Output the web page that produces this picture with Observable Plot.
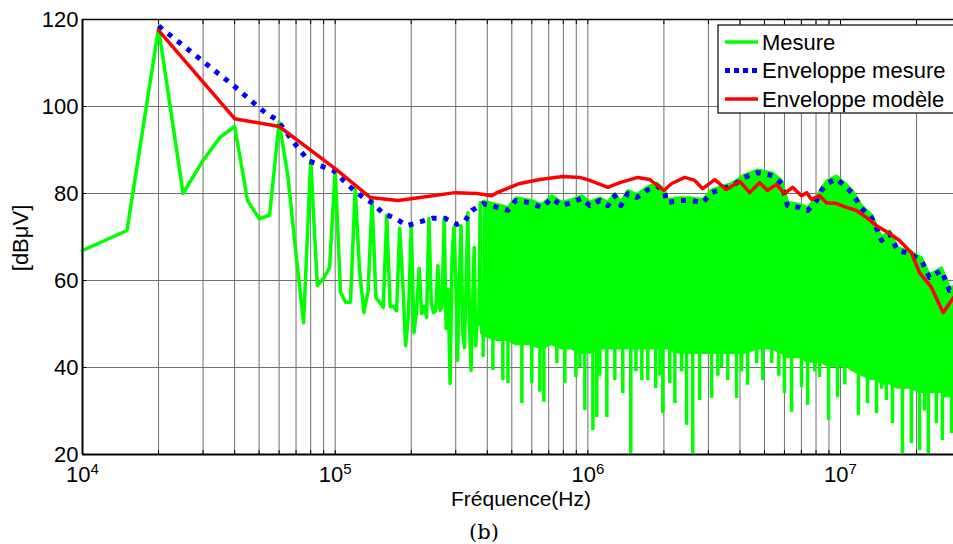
<!DOCTYPE html>
<html><head><meta charset="utf-8">
<script src="https://cdn.jsdelivr.net/npm/d3@7"></script>
<script src="https://cdn.jsdelivr.net/npm/@observablehq/plot@0.6"></script>
<style>body{margin:0;background:#fff}</style>
</head><body><div id="chart"></div>
<script>
// ---- Data ----
const seriesNames = ["Mesure", "Enveloppe mesure", "Enveloppe modèle"];

// Mesure: discrete harmonics region (Hz, dBµV)
const mesureF = [1e4,1.5e4,2e4,2.5e4,3e4,3.5e4,4e4,4.5e4,5e4,5.5e4,
  6e4,6.5e4,7e4,7.5e4,8e4,8.5e4,9e4,9.5e4,1e5,1.05e5,
  1.1e5,1.15e5,1.2e5,1.25e5,1.3e5,1.35e5,1.4e5,1.45e5,1.5e5,1.55e5,
  1.6e5,1.65e5,1.7e5,1.75e5,1.8e5,1.85e5,1.9e5,1.95e5,2e5,2.05e5,
  2.1e5,2.15e5,2.2e5,2.25e5,2.3e5,2.35e5,2.4e5,2.45e5,2.5e5,2.55e5,
  2.6e5,2.65e5,2.7e5,2.75e5,2.8e5,2.85e5,2.9e5,2.95e5,3e5,3.05e5,
  3.1e5,3.15e5,3.2e5,3.25e5,3.3e5,3.35e5,3.4e5,3.45e5,3.5e5,3.55e5,
  3.6e5,3.65e5,3.7e5,3.75e5,3.8e5];
const mesureV = [66.9,71.5,118,80,87.6,92.9,95.4,78.4,74.2,75,
  96.4,84,66,50.3,87.6,58.8,60.5,63,85.3,57.3,
  55,55,81.1,62,52.6,57.7,78.4,56,55,53.8,
  75,54,54,53,72,60,45,52,72.6,48,
  53,62.8,52.4,54,51.5,74.3,55,52.6,53,63.4,
  53.1,54,74.3,49,58,36.3,65,72.2,60,41.6,
  60,72.6,48,44.6,60,75.6,50,39.3,55,67.6,
  45,52,50,77.9,48];

// Mesure: dense region (top and solid bottom of the band)
const bandF = [3.85e5,4.37e5,4.83e5,5.19e5,5.85e5,6.58e5,7.21e5,7.89e5,8.57e5,9.47e5,
  1.018e6,1.115e6,1.2e6,1.279e6,1.35e6,1.439e6,1.562e6,1.711e6,1.874e6,2.016e6,
  2.053e6,2.31e6,2.53e6,2.85e6,3.09e6,3.42e6,3.74e6,4.17e6,4.7e6,5.38e6,
  5.85e6,6.17e6,6.88e6,7.41e6,8.04e6,8.41e6,8.88e6,9.64e6,1.056e7,1.115e7,
  1.211e7,1.326e7,1.388e7,1.453e7,1.562e7,1.68e7,1.874e7,2.09e7,2.25e7,2.51e7,
  2.7e7,2.8e7];
const bandHi = [78.2,77.5,76.8,79,78.5,77.5,79.5,78,78.5,79.5,
  78,79,78,80,78,80.7,79.8,81.4,82.4,80.8,
  78.6,79,79,78.6,80.8,81.7,82.4,84.3,85.4,84.7,
  83,78,77.5,76.8,79,81.3,83,84,82,80.6,
  77.2,75.1,72.6,69.8,71.4,67.5,66.8,65.2,61.3,62.9,
  58.3,58.6];
const bandLo = [47,46,46,45,45,44,45,44,44,43,
  43,44,44,44,44,44,44,44,44,44,
  44,43,43,43,43,43,43,43,44,44,
  43,42,42,41,41,41,40,40,40,39,
  38,37,37,36,36,35,35,34,34,34,
  33,33];
// Mesure: downward spikes in the dense region (bottom values)
const spikeF = [3.85e5,4.21e5,4.61e5,4.83e5,5.48e5,6.0e5,6.46e5,6.7e5,7.54e5,8.11e5,
  8.97e5,9.3e5,9.73e5,1.047e6,1.085e6,1.115e6,1.189e6,1.279e6,1.375e6,1.479e6,
  1.55e6,1.635e6,1.727e6,1.857e6,1.93e6,1.98e6,2.11e6,2.21e6,2.35e6,2.46e6,
  2.6e6,2.77e6,3.09e6,3.27e6,3.38e6,3.58e6,3.88e6,4.06e6,4.29e6,4.66e6,
  4.92e6,5.34e6,5.7e6,6.0e6,6.4e6,7.01e6,7.41e6,7.9e6,8.26e6,8.97e6,
  9.73e6,1.04e7,1.085e7,1.178e7,1.279e7,1.388e7,1.453e7,1.52e7,1.606e7,1.758e7,
  1.908e7,2.053e7,2.15e7,2.227e7,2.395e7,2.53e7,2.6e7,2.75e7];
const spikeV = [42.3,39.3,37,36.3,31.7,36.3,34.3,32,40.9,36.3,
  37.7,40,30.1,25.5,28.5,38,28.5,37,34,20.2,
  39,37,37,35.2,38,29.4,36.3,31.7,39,26.7,
  20.2,32.4,32.9,38,40,37,32.9,39,35.9,40.9,
  37,40.9,38,34,29.7,35.4,31.3,39,37.7,27.8,
  33.1,36,41.6,29,31.7,29.4,35,32.4,27.1,20.2,
  22.5,20.9,30,20.2,27.1,23.2,33,24.8];

// Enveloppe mesure
const envF = [2e4,4e4,4.74e4,5.29e4,5.79e4,6e4,6.76e4,7.27e4,7.82e4,8.72e4,
  9.82e4,1.168e5,1.29e5,1.413e5,1.548e5,1.727e5,1.926e5,2.11e5,2.42e5,2.72e5,
  3.03e5,3.27e5,3.48e5,3.85e5,4.37e5,4.83e5,5.19e5,5.85e5,6.58e5,7.21e5,
  7.89e5,8.57e5,9.47e5,1.018e6,1.115e6,1.2e6,1.279e6,1.35e6,1.439e6,1.562e6,
  1.711e6,1.874e6,2.016e6,2.053e6,2.31e6,2.53e6,2.85e6,3.09e6,3.42e6,3.74e6,
  4.17e6,4.7e6,5.38e6,5.85e6,6.17e6,6.88e6,7.41e6,8.04e6,8.41e6,8.88e6,
  9.64e6,1.056e7,1.115e7,1.211e7,1.326e7,1.388e7,1.453e7,1.562e7,1.68e7,1.874e7,
  2.09e7,2.25e7,2.51e7,2.7e7,2.8e7];
const envV = [118.5,104.6,100.9,98.6,97.2,96.3,92.2,89.9,87.6,86.4,
  85.3,81.1,79.1,77.7,75.4,74.3,72.6,73.3,74.3,74.3,
  72.9,73.8,76.1,77.7,76.8,76.1,78.4,77.9,76.8,78.9,
  77.2,77.9,78.9,77.2,78.4,77.2,79.5,77.2,80,79.1,
  80.7,81.8,80.2,77.9,78.4,78.4,77.9,80.2,81.1,81.8,
  83.7,84.8,84.1,82.3,77.2,76.8,76.1,78.4,80.7,82.3,
  83.4,81.4,80,76.6,74.5,72,69.2,70.8,66.9,66.2,
  64.6,60.7,62.3,57.7,58];

// Enveloppe modèle
const modF = [2e4,4e4,6e4,1e5,1.375e5,1.774e5,2.17e5,2.98e5,3.64e5,4.17e5,
  4.37e5,5.38e5,6.46e5,7.96e5,9.3e5,1.018e6,1.2e6,1.338e6,1.576e6,1.758e6,
  1.997e6,2.148e6,2.418e6,2.648e6,2.85e6,3.18e6,3.54e6,3.99e6,4.37e6,4.78e6,
  5.14e6,5.58e6,6.0e6,6.46e6,7.01e6,7.34e6,7.68e6,8.26e6,8.81e6,9.64e6,
  1.056e7,1.157e7,1.267e7,1.388e7,1.562e7,1.711e7,1.908e7,2.053e7,2.29e7,2.55e7,
  2.8e7];
const modV = [117.5,97.2,95.4,85.7,79.1,78.4,79.1,80.2,80,79.5,
  80.2,82.3,83.2,83.9,83.7,83,81.4,82.5,83.7,83.2,
  80.7,82.3,83.7,83,81.1,83.2,80.9,82.8,80.2,82.5,
  80.7,82.1,80,81.4,79.5,80.2,78.6,79.5,77.9,77.7,
  76.8,76.1,74.5,72.6,70.8,69.2,66.4,61.8,58.4,52.6,
  56.1];

// Axis ticks
const xMajorTicks = [1e4, 1e5, 1e6, 1e7];
const xMinorTicks = [1e4,2e4,3e4,4e4,5e4,6e4,7e4,8e4,9e4,
  1e5,2e5,3e5,4e5,5e5,6e5,7e5,8e5,9e5,
  1e6,2e6,3e6,4e6,5e6,6e6,7e6,8e6,9e6,
  1e7,2e7];
const yTicks = [20, 40, 60, 80, 100, 120];
const xLabel = "Fréquence(Hz)";
const yLabel = "[dBμV]";
const caption = "(b)";

// ---- Tables for the library ----
const mesure = mesureF.map((f, i) => ({f, v: mesureV[i]}));
const band = bandF.map((f, i) => ({f, hi: bandHi[i], lo: bandLo[i]}));
const spikes = spikeF.map((f, i) => ({f, v: spikeV[i]}));
const env = envF.map((f, i) => ({f, v: envV[i]}));
const mod = modF.map((f, i) => ({f, v: modV[i]}));

const GREEN = "#00ff00", BLUE = "#0000ff", RED = "#ff0000";
const FONT = "'Liberation Sans', Arial, sans-serif";

const chart = Plot.plot({
  width: 953, height: 544,
  marginLeft: 82, marginRight: 0, marginTop: 19, marginBottom: 90,
  style: {fontFamily: FONT, fontSize: "22px", background: "white", color: "black"},
  x: {type: "log", domain: [1e4, 2.8e7]},
  y: {domain: [20, 120]},
  marks: [
    Plot.gridX(xMinorTicks, {stroke: "#707070", strokeOpacity: 1, strokeWidth: 1}),
    Plot.gridY(yTicks, {stroke: "#707070", strokeOpacity: 1, strokeWidth: 1}),
    Plot.areaY(band, {x: "f", y1: "lo", y2: "hi", fill: GREEN}),
    Plot.ruleX(spikes, {x: "f", y1: "v", y2: 48, stroke: GREEN, strokeWidth: 3.5}),
    Plot.line(band, {x: "f", y: "hi", stroke: GREEN, strokeWidth: 3}),
    Plot.line(mesure, {x: "f", y: "v", stroke: GREEN, strokeWidth: 3.5, strokeLinejoin: "round"}),
    Plot.line(env, {x: "f", y: "v", stroke: BLUE, strokeWidth: 5, strokeDasharray: "5,7", strokeLinecap: "butt"}),
    Plot.line(mod, {x: "f", y: "v", stroke: RED, strokeWidth: 3.5, strokeLinejoin: "round"}),
    Plot.ruleX([1e4], {stroke: "black", strokeWidth: 2}),
    Plot.ruleY([20], {stroke: "black", strokeWidth: 2}),
    Plot.ruleY([120], {stroke: "black", strokeWidth: 1.5}),
    Plot.axisX(xMinorTicks, {anchor: "bottom", tickSize: 4, dy: -4, tickFormat: () => "", label: null, stroke: "black"}),
    Plot.axisX(xMinorTicks, {anchor: "top", tickSize: 4, dy: 4, tickFormat: () => "", label: null, stroke: "black"}),
    Plot.axisY(yTicks, {anchor: "left", tickSize: 4, dx: 4, tickFormat: () => "", label: null, stroke: "black"}),
    Plot.axisX(xMajorTicks, {anchor: "bottom", tickSize: 0, tickPadding: 12, tickFormat: d => String(Math.round(Math.log10(d))), label: null, fill: "black", fontSize: 22}),
    Plot.axisY(yTicks, {anchor: "left", tickSize: 0, tickPadding: 4, tickFormat: d => String(d), label: null, fill: "black", fontSize: 22})
  ]
});
document.getElementById("chart").append(chart);

const svg = d3.select(chart);

// Superscript exponents on the x tick labels
svg.selectAll('g[aria-label="x-axis tick label"] text').each(function() {
  const t = d3.select(this);
  const e = t.text();
  if (!e) return;
  t.text(null);
  t.append("tspan").text("10");
  t.append("tspan").attr("dy", "-0.55em").attr("font-size", "15px").text(e);
});

// Axis titles and caption
svg.append("text").attr("x", 521).attr("y", 506).attr("text-anchor", "middle")
  .attr("font-family", FONT).attr("font-size", 21).attr("fill", "black").text(xLabel);
svg.append("text").attr("transform", "translate(28,238) rotate(-90)").attr("text-anchor", "middle")
  .attr("font-family", FONT).attr("font-size", 22).attr("fill", "black").text(yLabel);
svg.append("text").attr("x", 484).attr("y", 539).attr("text-anchor", "middle")
  .attr("font-family", "'DejaVu Serif', serif").attr("font-size", 21).attr("fill", "black").text(caption);

// Legend
const lg = svg.append("g");
lg.append("rect").attr("x", 718).attr("y", 25).attr("width", 260).attr("height", 88)
  .style("fill", "white").style("stroke", "black").style("stroke-width", "1.2px");
const legendStyles = [
  {stroke: GREEN, width: 3.5, dash: null},
  {stroke: BLUE, width: 5, dash: "5,4"},
  {stroke: RED, width: 3.5, dash: null}
];
seriesNames.forEach((name, i) => {
  const y = 42 + i * 28.5;
  const s = legendStyles[i];
  const ln = lg.append("line").attr("x1", 725).attr("x2", 758).attr("y1", y).attr("y2", y)
    .attr("stroke", s.stroke).attr("stroke-width", s.width);
  if (s.dash) ln.attr("stroke-dasharray", s.dash);
  lg.append("text").attr("x", 762).attr("y", y).attr("dy", "0.36em").attr("text-anchor", "start")
    .attr("font-family", FONT).attr("font-size", 22).attr("fill", "black").text(name);
});
</script></body></html>
